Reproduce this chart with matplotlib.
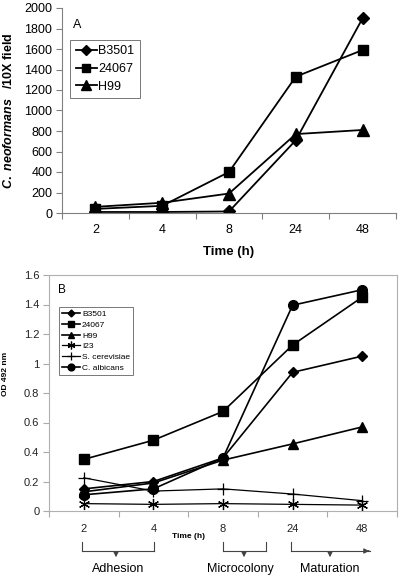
import matplotlib
matplotlib.use("Agg")
import matplotlib.pyplot as plt
import matplotlib.patches as mpatches
import numpy as np

plt.rcParams['font.family'] = ['Liberation Sans', 'DejaVu Sans']
plt.rcParams['mathtext.fontset'] = 'custom'
plt.rcParams['mathtext.it'] = 'Liberation Sans:italic:bold'
plt.rcParams['mathtext.rm'] = 'Liberation Sans:bold'
plt.rcParams['mathtext.bf'] = 'Liberation Sans:bold'

times = ["2", "4", "8", "24", "48"]

# Panel A: cell counts
a_names = ["B3501", "24067", "H99"]
a_b3501 = [10, 10, 15, 710, 1900]
a_24067 = [40, 70, 400, 1330, 1590]
a_h99 = [60, 100, 190, 770, 810]

# Panel B: OD492
b_names = ["B3501", "24067", "H99", "I23", "S. cerevisiae", "C. albicans"]
b_b3501 = [0.15, 0.20, 0.36, 0.94, 1.05]
b_24067 = [0.35, 0.48, 0.675, 1.125, 1.45]
b_h99 = [0.13, 0.19, 0.345, 0.455, 0.57]
b_i23 = [0.05, 0.045, 0.05, 0.045, 0.04]
b_scer = [0.225, 0.135, 0.15, 0.115, 0.07]
b_calb = [0.11, 0.15, 0.36, 1.395, 1.50]

stages = ["Adhesion", "Microcolony", "Maturation"]

W, H = 400, 577
fig = plt.figure(figsize=(W / 100, H / 100), dpi=100)

def fx(px):
    return px / W

def fy(py):
    return 1 - py / H

x = np.arange(len(times)) + 0.5
spine_c = "#808080"

# ---------- Panel A ----------
axA = fig.add_axes([fx(62), fy(213), fx(396) - fx(62), fy(8) - fy(213)])
kw = dict(color="black", lw=1.3)
axA.plot(x, a_b3501, marker="D", ms=6, label=a_names[0], **kw)
axA.plot(x, a_24067, marker="s", ms=7.5, label=a_names[1], **kw)
axA.plot(x, a_h99, marker="^", ms=8, label=a_names[2], **kw)
axA.set_xlim(0, 5)
axA.set_ylim(0, 2000)
axA.set_yticks(np.arange(0, 2001, 200))
axA.set_xticks(np.arange(0, 6), minor=False)
axA.set_xticklabels([])
axA.set_xticks(x, minor=True)
axA.set_xticklabels(times, minor=True)
axA.tick_params(axis="x", which="minor", length=0, labelsize=9, pad=8)
axA.tick_params(axis="x", which="major", length=4, color=spine_c)
axA.tick_params(axis="y", length=4, color=spine_c, labelsize=9, pad=3)
for s in ["top", "right"]:
    axA.spines[s].set_visible(False)
for s in ["left", "bottom"]:
    axA.spines[s].set_color(spine_c)
    axA.spines[s].set_linewidth(0.8)
axA.set_xlabel("Time (h)", fontsize=9.5, fontweight="bold", labelpad=7)
axA.set_ylabel(r"$\mathit{C.\ neoformans}$   /10X field", fontsize=9, fontweight="bold")
axA.yaxis.set_label_coords(-0.14, 0.5)
axA.text(0.033, 0.9, "A", transform=axA.transAxes, fontsize=9)
legA = axA.legend(loc="upper left", bbox_to_anchor=(0.024, 0.845), frameon=True,
                  fancybox=False, edgecolor="#555555", fontsize=9,
                  handlelength=1.7, borderpad=0.45, labelspacing=0.45,
                  handletextpad=0.1, borderaxespad=0, markerscale=0.85)
legA.get_frame().set_linewidth(0.7)

# ---------- Panel B ----------
axB = fig.add_axes([fx(49), fy(511), fx(397) - fx(49), fy(275) - fy(511)])
kb = dict(color="black", lw=1.2)
axB.plot(x, b_b3501, marker="D", ms=5, label=b_names[0], **kb)
axB.plot(x, b_24067, marker="s", ms=7, label=b_names[1], **kb)
axB.plot(x, b_h99, marker="^", ms=7, label=b_names[2], **kb)
axB.plot(x, b_i23, marker=(6, 2, 0), ms=8, mew=0.9, color="black", lw=0.9, label=b_names[3])
axB.plot(x, b_scer, marker="+", ms=8, mew=0.9, color="black", lw=0.9, label=b_names[4])
axB.plot(x, b_calb, marker="o", ms=7, label=b_names[5], **kb)
axB.set_xlim(0, 5)
axB.set_ylim(0, 1.6)
axB.set_yticks(np.arange(0, 1.61, 0.2))
axB.set_yticklabels(["0", "0.2", "0.4", "0.6", "0.8", "1", "1.2", "1.4", "1.6"])
axB.set_xticks(np.arange(0, 6))
axB.set_xticklabels([])
axB.set_xticks(x, minor=True)
axB.set_xticklabels(times, minor=True)
axB.tick_params(axis="x", which="minor", length=0, labelsize=8, pad=9, labelcolor="#222222")
axB.tick_params(axis="x", which="major", length=4, color="#aaaaaa")
axB.tick_params(axis="y", length=4, color="#aaaaaa", labelsize=8, labelcolor="#222222", pad=3)
for s in axB.spines.values():
    s.set_color("#b0b0b0")
    s.set_linewidth(0.8)
axB.set_ylabel("OD 492 nm", fontsize=6, fontweight="bold")
axB.yaxis.set_label_coords(-0.115, 0.58)
axB.text(0.025, 0.925, "B", transform=axB.transAxes, fontsize=8.5)
legB = axB.legend(loc="upper left", bbox_to_anchor=(0.028, 0.865), frameon=True,
                  fancybox=False, edgecolor="#555555", fontsize=6,
                  handlelength=2.2, borderpad=0.4, labelspacing=0.35,
                  handletextpad=0.2, borderaxespad=0, markerscale=0.7)
legB.get_frame().set_linewidth(0.7)
fig.text(fx(188), fy(536), "Time (h)", fontsize=6, fontweight="bold", ha="center", va="center")

# ---------- Stage brackets ----------
line_kw = dict(color="#444444", lw=0.8, transform=fig.transFigure)

def bracket(x0, x1, xc, arrow_end=False):
    ytop, ybot = fy(542), fy(551)
    fig.add_artist(plt.Line2D([fx(x0), fx(x0)], [ytop, ybot], **line_kw))
    fig.add_artist(plt.Line2D([fx(x0), fx(x1)], [ybot, ybot], **line_kw))
    if arrow_end:
        fig.patches.append(mpatches.FancyArrowPatch(
            (fx(x1) - 0.01, ybot), (fx(x1) + 0.005, ybot),
            arrowstyle="-|>,head_length=3,head_width=1.5",
            color="#444444", lw=0.8, transform=fig.transFigure, mutation_scale=1))
    else:
        fig.add_artist(plt.Line2D([fx(x1), fx(x1)], [ytop, ybot], **line_kw))
    fig.patches.append(mpatches.FancyArrowPatch(
        (fx(xc), ybot), (fx(xc), fy(560)), arrowstyle="-|>,head_length=3,head_width=1.5",
        color="#444444", lw=0.8, transform=fig.transFigure, mutation_scale=1))

bracket(82, 154, 116)
bracket(223, 266, 244)
bracket(291, 370, 330, arrow_end=True)

for label, cx in zip(stages, [118, 240, 330]):
    fig.text(fx(cx), fy(569), label, fontsize=9, ha="center", va="center")

fig.savefig("out.png", dpi=100)
